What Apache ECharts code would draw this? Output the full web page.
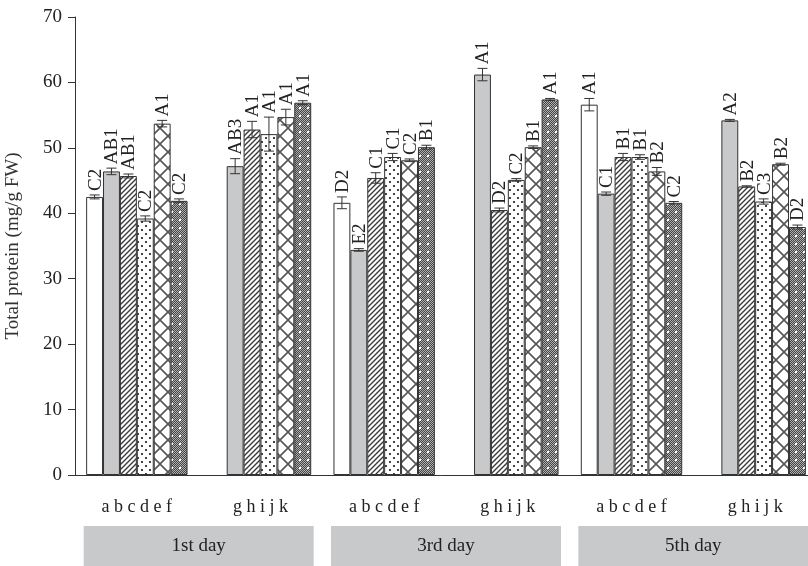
<!DOCTYPE html>
<html>
<head>
<meta charset="UTF-8">
<title>Total protein</title>
<script src="https://cdn.jsdelivr.net/npm/echarts@6/dist/echarts.min.js"></script>
<style>
  html, body { margin: 0; padding: 0; background: #fff; }
  #main { width: 808px; height: 566px; }
</style>
</head>
<body>
<div id="main"></div>
<script>
var tickLabels = ['a b c d e f', 'g h i j k', 'a b c d e f', 'g h i j k', 'a b c d e f', 'g h i j k'];
var dayNames = ['1st day', '3rd day', '5th day'];

// six bar slots per group: a, b/g, c/h, d/i, e/j, f/k  (g-k groups have no first bar)
var slot1 = [42.5, null, 41.6, null, 56.6, null];
var slot2 = [46.4, 47.2, 34.4, 61.2, 43.0, 54.2];
var slot3 = [45.7, 52.8, 45.4, 40.5, 48.6, 44.1];
var slot4 = [39.2, 52.1, 48.6, 45.1, 48.6, 41.8];
var slot5 = [53.7, 54.7, 48.1, 50.1, 46.4, 47.5];
var slot6 = [41.9, 56.9, 50.1, 57.4, 41.6, 37.9];

var err1 = [0.3, null, 0.9, null, 0.95, null];
var err2 = [0.5, 1.15, 0.2, 0.95, 0.25, 0.15];
var err3 = [0.3, 1.25, 0.8, 0.3, 0.55, 0.1];
var err4 = [0.4, 2.6, 0.55, 0.2, 0.35, 0.4];
var err5 = [0.5, 1.2, 0.2, 0.2, 0.6, 0.15];
var err6 = [0.3, 0.3, 0.3, 0.15, 0.2, 0.3];

var lab1 = ['C2', '', 'D2', '', 'A1', ''];
var lab2 = ['AB1', 'AB3', 'E2', 'A1', 'C1', 'A2'];
var lab3 = ['AB1', 'A1', 'C1', 'D2', 'B1', 'B2'];
var lab4 = ['C2', 'A1', 'C1', 'C2', 'B1', 'C3'];
var lab5 = ['A1', 'A1', 'C2', 'B1', 'B2', 'B2'];
var lab6 = ['C2', 'A1', 'B1', 'A1', 'C2', 'D2'];

var slots = [slot1, slot2, slot3, slot4, slot5, slot6];
var errs = [err1, err2, err3, err4, err5, err6];
var labs = [lab1, lab2, lab3, lab4, lab5, lab6];

var FONT = '"Liberation Serif", "DejaVu Serif", serif';
var INK = '#333';
var GAP = 0.18;

function tile(size, draw) {
    var c = document.createElement('canvas');
    c.width = size; c.height = size;
    var ctx = c.getContext('2d');
    ctx.fillStyle = '#fff';
    ctx.fillRect(0, 0, size, size);
    draw(ctx, size);
    return { image: c, repeat: 'repeat' };
}

var fills = [
    '#fff',
    '#c8c9cb',
    tile(5, function (ctx, s) {
        ctx.strokeStyle = '#3a3a3a';
        ctx.lineWidth = 1.4;
        ctx.beginPath();
        ctx.moveTo(-1, s + 1); ctx.lineTo(s + 1, -1);
        ctx.moveTo(-1, 1); ctx.lineTo(1, -1);
        ctx.moveTo(s - 1, s + 1); ctx.lineTo(s + 1, s - 1);
        ctx.stroke();
    }),
    tile(8, function (ctx, s) {
        ctx.fillStyle = '#444';
        ctx.fillRect(1, 1, 2, 2);
        ctx.fillRect(5, 5, 2, 2);
    }),
    tile(16, function (ctx, s) {
        ctx.strokeStyle = '#555';
        ctx.lineWidth = 1.6;
        ctx.beginPath();
        ctx.moveTo(0, 0); ctx.lineTo(s, s);
        ctx.moveTo(s, 0); ctx.lineTo(0, s);
        ctx.stroke();
    }),
    tile(8, function (ctx, s) {
        for (var i = 0; i < s; i++) {
            for (var j = 0; j < s; j++) {
                ctx.fillStyle = (i + j) % 2 ? '#444' : '#b0b0b0';
                ctx.fillRect(i, j, 1, 1);
            }
        }
        ctx.fillStyle = '#fff';
        ctx.fillRect(3, 3, 2, 2);
    })
];

var series = slots.map(function (vals, s) {
    return {
        type: 'bar',
        data: vals,
        barGap: '0%',
        barCategoryGap: (GAP * 100) + '%',
        itemStyle: { color: fills[s], borderColor: INK, borderWidth: 1 },
        silent: true
    };
});

// error bars and letter labels
var marks = [];
slots.forEach(function (vals, s) {
    vals.forEach(function (v, i) {
        if (v != null) marks.push([i, v, errs[s][i], s, labs[s][i]]);
    });
});

series.push({
    type: 'custom',
    data: marks,
    z: 10,
    silent: true,
    renderItem: function (params, api) {
        var m = marks[params.dataIndex];
        var cat = m[0], v = m[1], e = m[2], s = m[3];
        var band = api.size([1, 0])[0];
        var bw = band * (1 - GAP) / 6;
        var x = api.coord([cat, v])[0] + (s - 2.5) * bw;
        var yTop = api.coord([cat, v + e])[1];
        var yBot = api.coord([cat, v - e])[1];
        var ls = { stroke: INK, lineWidth: 1 };
        return {
            type: 'group',
            children: [
                { type: 'line', shape: { x1: x, y1: yTop, x2: x, y2: yBot }, style: ls },
                { type: 'line', shape: { x1: x - 5, y1: yTop, x2: x + 5, y2: yTop }, style: ls },
                { type: 'line', shape: { x1: x - 5, y1: yBot, x2: x + 5, y2: yBot }, style: ls },
                {
                    type: 'text',
                    x: x + 1, y: yTop - 4,
                    rotation: Math.PI / 2,
                    style: {
                        text: m[4], fill: '#222', font: '19px ' + FONT,
                        align: 'left', verticalAlign: 'middle'
                    }
                }
            ]
        };
    }
});

var chart = echarts.init(document.getElementById('main'));
chart.setOption({
    animation: false,
    grid: { left: 75, top: 17, width: 742, bottom: 91, outerBoundsMode: 'none' },
    xAxis: [{
        type: 'category',
        data: tickLabels,
        axisLine: { lineStyle: { color: INK } },
        axisTick: { length: 8, lineStyle: { color: INK } },
        axisLabel: { margin: 23, interval: 0, fontFamily: FONT, fontSize: 18, color: '#222' }
    }, {
        type: 'category',
        data: dayNames,
        position: 'bottom',
        axisLine: { show: false },
        axisTick: { show: false },
        axisLabel: {
            margin: 51, interval: 0, fontFamily: FONT, fontSize: 19, color: '#222',
            backgroundColor: '#c8c9cb', width: 230, height: 40, lineHeight: 40, align: 'center'
        }
    }],
    yAxis: {
        type: 'value',
        min: 0, max: 70, interval: 10,
        name: 'Total protein (mg/g FW)',
        nameLocation: 'middle',
        nameGap: 52,
        nameTextStyle: { fontFamily: FONT, fontSize: 19, color: '#333' },
        axisLine: { show: true, lineStyle: { color: INK } },
        axisTick: { show: true, length: 7, lineStyle: { color: INK } },
        axisLabel: { margin: 13, fontFamily: FONT, fontSize: 19, color: '#222' },
        splitLine: { show: false }
    },
    series: series
});
</script>
</body>
</html>
